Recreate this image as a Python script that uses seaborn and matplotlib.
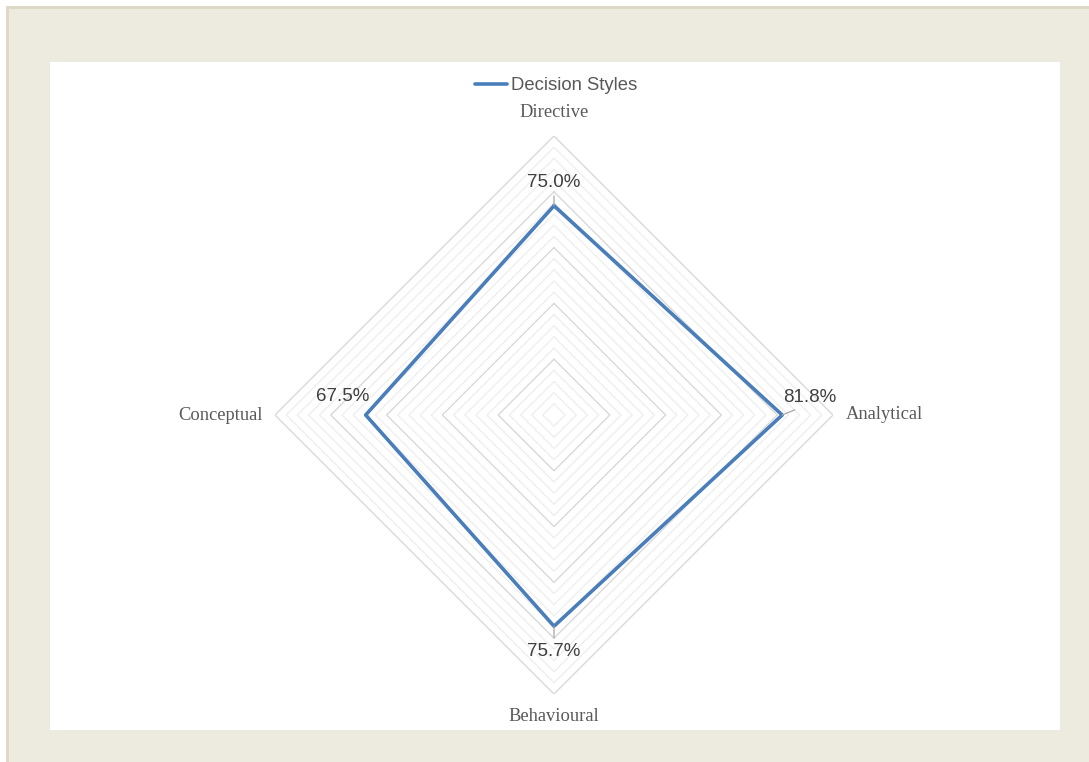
import numpy as np
import pandas as pd
import matplotlib
matplotlib.use("Agg")
import matplotlib.pyplot as plt
from matplotlib.patches import Rectangle
import seaborn as sns

# Decision style profile
categories = ["Directive", "Analytical", "Behavioural", "Conceptual"]
values = [0.750, 0.818, 0.757, 0.675]
series_name = "Decision Styles"

# Radial grid levels (minor every 4 %, major every 20 %)
minor_levels = [round(0.04 * k, 2) for k in range(1, 26)]
major_levels = [0.2, 0.4, 0.6, 0.8, 1.0]

sns.set_theme(style="white")
plt.rcParams["font.family"] = ["Liberation Sans", "DejaVu Sans"]

W, H = 1089, 762
fig = plt.figure(figsize=(W / 100, H / 100), dpi=100)
fig.patch.set_facecolor("white")


def fig_rect(x0, y0, x1, y1, color, z):
    """Rectangle given in pixel coordinates from the top-left corner."""
    fig.patches.append(Rectangle((x0 / W, 1 - y1 / H), (x1 - x0) / W, (y1 - y0) / H,
                                 transform=fig.transFigure, color=color,
                                 zorder=z, lw=0))


# beige frame, its top/left accents, and the white chart area
fig_rect(6, 6, W, H, "#EDEAE0", -3)
fig_rect(6, 6, W, 9, "#DDD9C6", -2)
fig_rect(6, 6, 9, H, "#DDD9C6", -2)
fig_rect(50, 62, 1060, 730, "white", -1)

cx, cy, R = 554, 415, 279
ax = fig.add_axes([(cx - R) / W, 1 - (cy + R) / H, 2 * R / W, 2 * R / H],
                  projection="polar")
ax.set_facecolor("none")
ax.set_theta_offset(np.pi / 2)
ax.set_theta_direction(-1)
ax.grid(False)
ax.spines["polar"].set_visible(False)

n = len(categories)
angles = [2 * np.pi * i / n for i in range(n)]
closed_angles = angles + angles[:1]

# diamond gridlines
for lv in minor_levels:
    if any(abs(lv - m) < 1e-9 for m in major_levels):
        continue
    ax.plot(closed_angles, [lv] * (n + 1), color="#EFEFEF", lw=1.0, zorder=1)
for lv in major_levels:
    ax.plot(closed_angles, [lv] * (n + 1), color="#D9D9D9", lw=1.0, zorder=2)

# data series
df = pd.DataFrame({"theta": closed_angles, "value": values + values[:1]})
sns.lineplot(data=df, x="theta", y="value", sort=False, estimator=None,
             color="#4A7EBB", lw=2.6, ax=ax, zorder=5, label=series_name,
             legend=False)
ax.set_xlabel("")
ax.set_ylabel("")
ax.set_ylim(0, 1)
ax.set_xticks([])
ax.set_yticks([])

# category labels
label_pos = {
    "Directive": (1.086, "center", "center"),
    "Analytical": (1.047, "left", "center"),
    "Behavioural": (1.082, "center", "center"),
    "Conceptual": (1.043, "right", "center"),
}
for ang, cat in zip(angles, categories):
    r, ha, va = label_pos[cat]
    ax.text(ang, r, cat, ha=ha, va=va, fontsize=13.3, color="#595959",
            family=["Liberation Serif", "DejaVu Serif"])

# value labels with leader lines (offsets in points)
offsets = {
    "Directive": (0, 16.5),
    "Analytical": (19.5, 12.5),
    "Behavioural": (0, -18),
    "Conceptual": (-16.5, 13),
}
leader_anchor = {"Directive": (0.5, 0.5), "Analytical": (0.4, 0.0),
                 "Behavioural": (0.5, 0.5), "Conceptual": None}
for ang, cat, v in zip(angles, categories, values):
    props = None
    if leader_anchor[cat] is not None:
        props = dict(arrowstyle="-", color="#A6A6A6", lw=0.9, shrinkA=1,
                     shrinkB=0, relpos=leader_anchor[cat])
    ax.annotate(f"{v * 100:.1f}%", xy=(ang, v), xytext=offsets[cat],
                textcoords="offset points", ha="center", va="center",
                fontsize=13.5, color="#404040", zorder=6, arrowprops=props)

# legend
handles, labels = ax.get_legend_handles_labels()
fig.legend(handles, labels, loc="center", bbox_to_anchor=(556 / W, 1 - 86 / H),
           frameon=False, fontsize=13.3, labelcolor="#595959",
           handlelength=1.75, handletextpad=0.2)

fig.savefig("out.png", dpi=100, facecolor=fig.get_facecolor())
